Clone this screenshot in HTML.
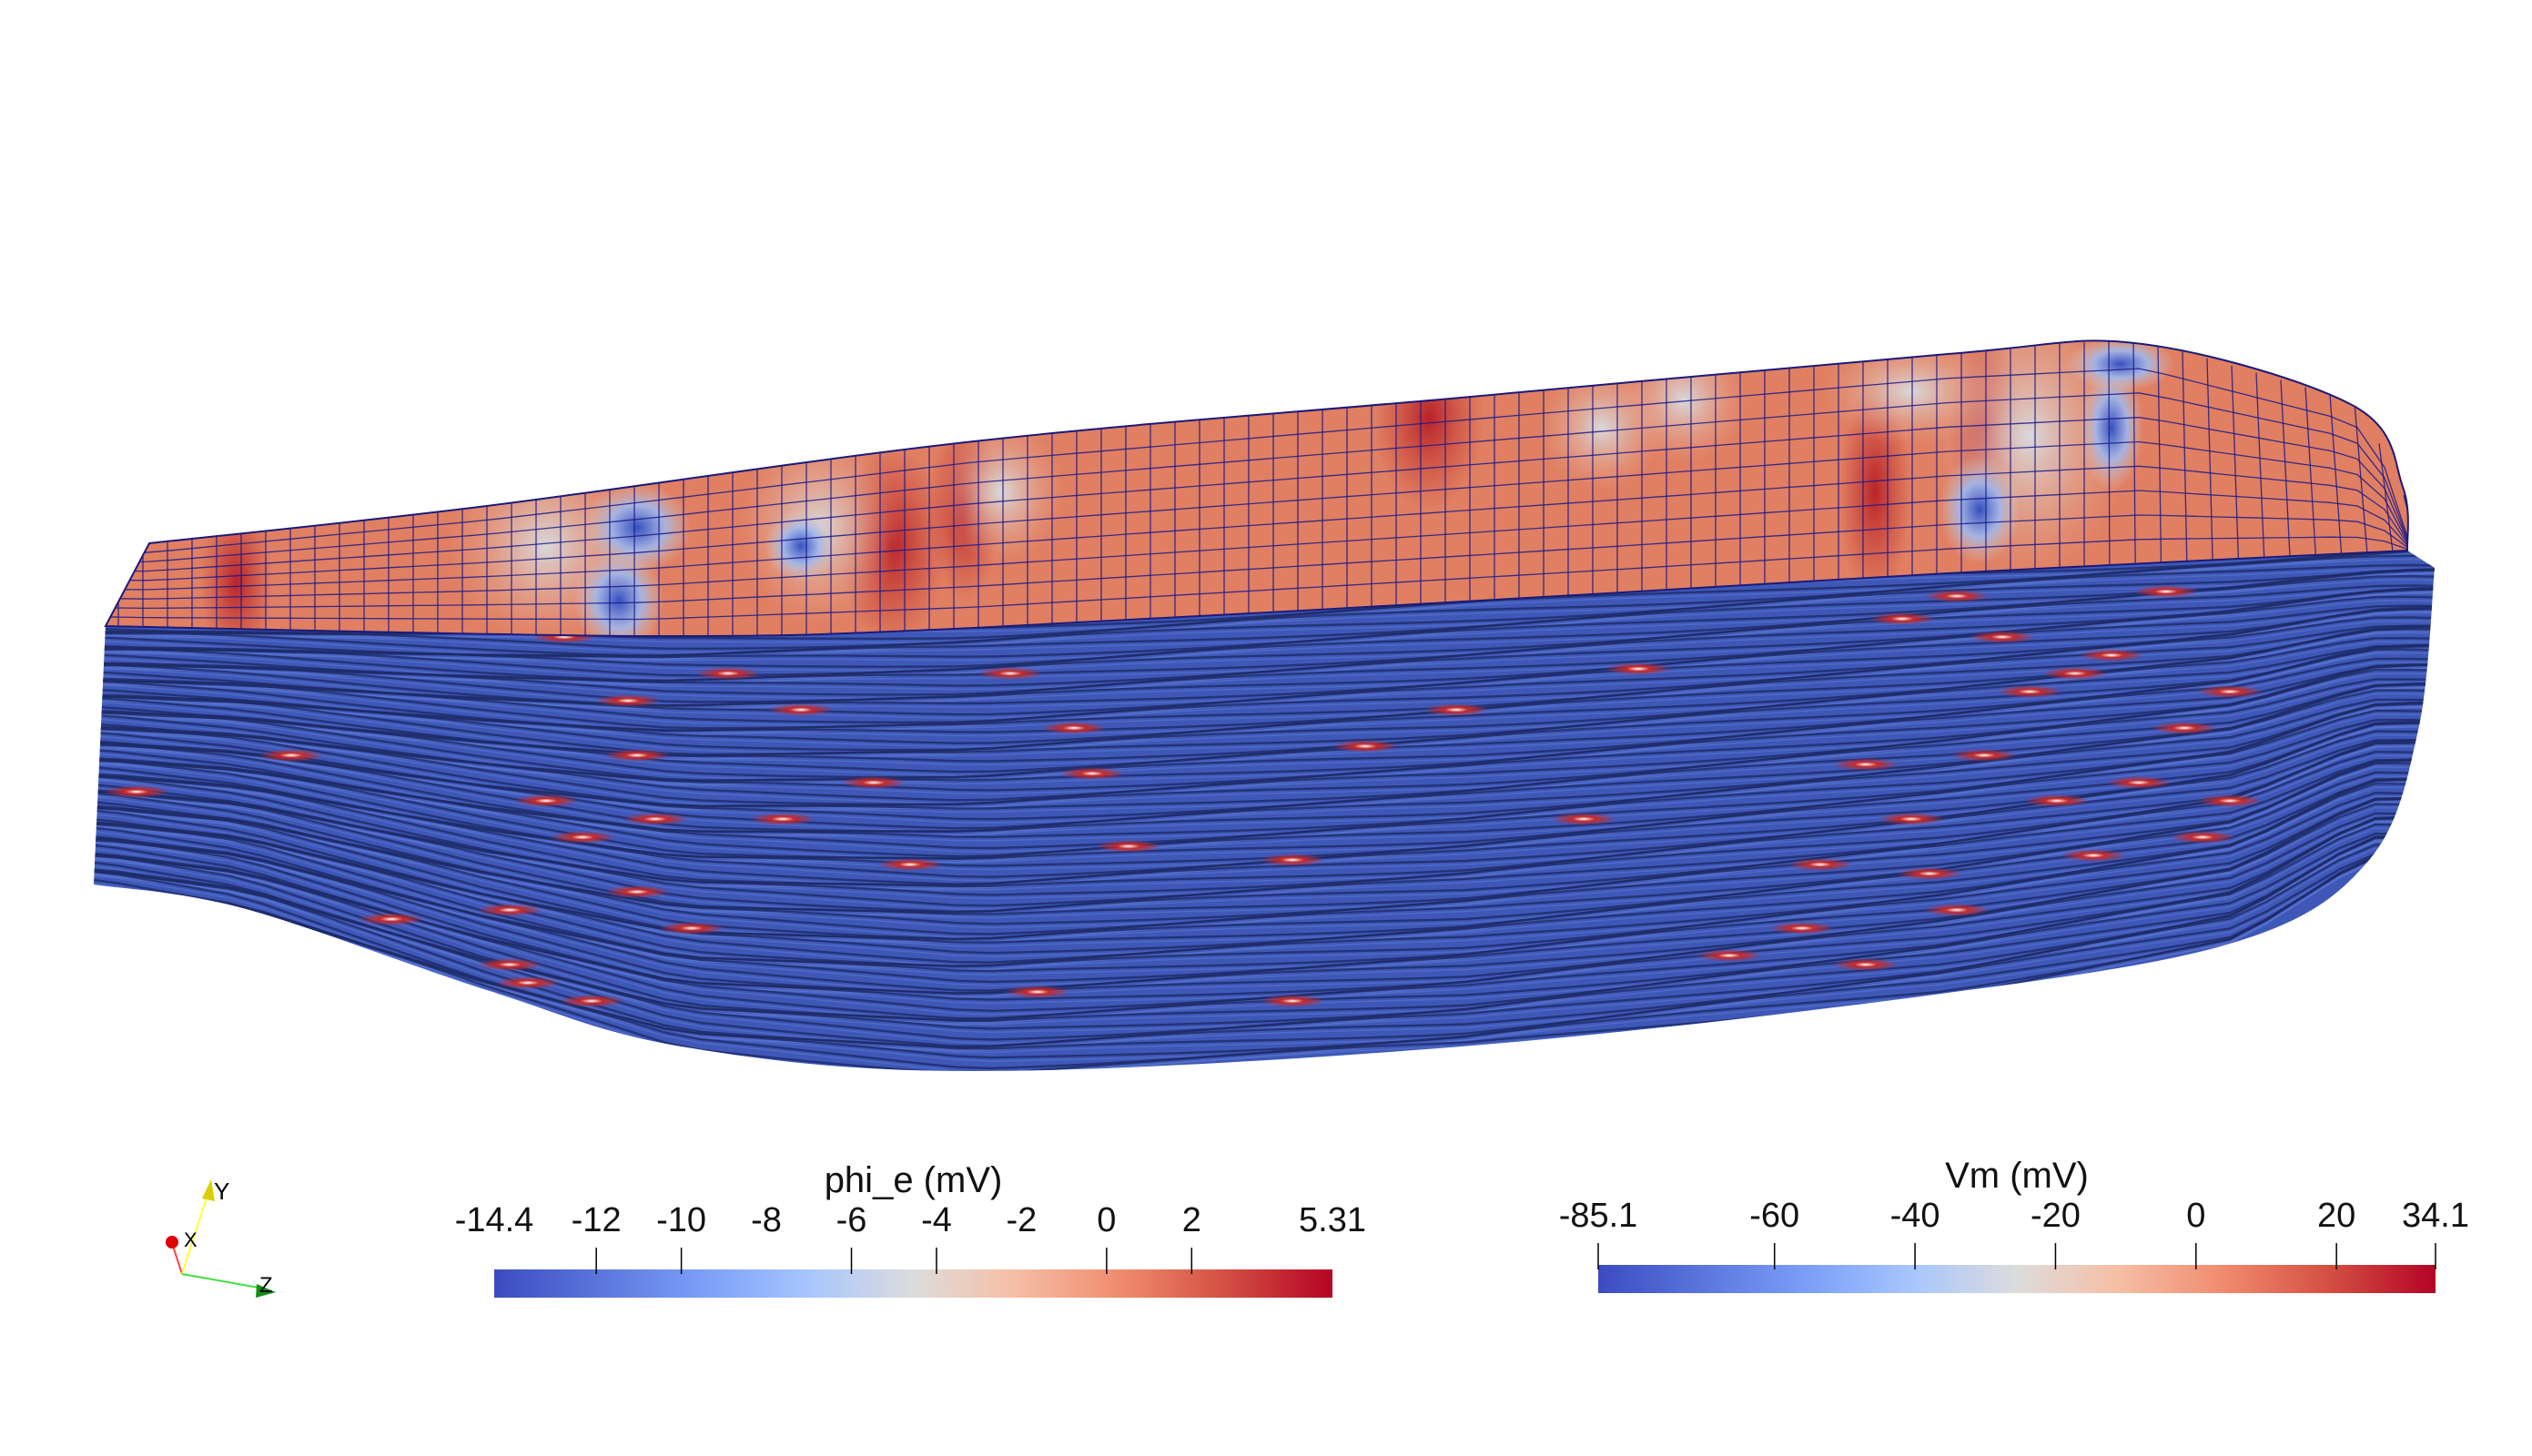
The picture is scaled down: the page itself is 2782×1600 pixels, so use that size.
<!DOCTYPE html>
<html><head><meta charset="utf-8"><style>
html,body{margin:0;padding:0;background:#fff;}
svg{display:block;font-family:"Liberation Sans",sans-serif;}
</style></head><body>
<svg id="root" width="2782" height="1600" viewBox="0 0 2782 1600">
<defs>
<linearGradient id="cw" x1="0" x2="1" y1="0" y2="0">
<stop offset="0" stop-color="#3b4cc0"/><stop offset="0.25" stop-color="#7b9ff9"/><stop offset="0.38" stop-color="#aac7fd"/>
<stop offset="0.5" stop-color="#dddcdc"/><stop offset="0.62" stop-color="#f6bfa6"/><stop offset="0.75" stop-color="#f08a6c"/>
<stop offset="0.88" stop-color="#d24b40"/><stop offset="1" stop-color="#b40426"/></linearGradient>
<radialGradient id="bluespot"><stop offset="0" stop-color="#3550c0"/><stop offset="0.5" stop-color="#9fb8ee" stop-opacity="0.9"/><stop offset="1" stop-color="#e0c4b4" stop-opacity="0"/></radialGradient>
<radialGradient id="lightspot"><stop offset="0" stop-color="#d8d8dc"/><stop offset="1" stop-color="#eaa488" stop-opacity="0"/></radialGradient>
<radialGradient id="redspot"><stop offset="0" stop-color="#b8222a"/><stop offset="1" stop-color="#c53a30" stop-opacity="0"/></radialGradient>
<radialGradient id="fib"><stop offset="0" stop-color="#fff"/><stop offset="0.35" stop-color="#c62a2a"/><stop offset="1" stop-color="#c62a2a" stop-opacity="0"/></radialGradient>
<clipPath id="topclip"><path id="toppathc" d=""/></clipPath>
<clipPath id="bodyclip"><path id="bodypathc" d=""/></clipPath>
</defs>
<g id="model"></g>
<g>
<line x1="200" y1="1400" x2="189" y2="1366" stroke="#ff4040" stroke-width="2"/>
<circle cx="189" cy="1365" r="7" fill="#e00000"/>
<line x1="200" y1="1400" x2="229" y2="1310" stroke="#ffff30" stroke-width="2"/>
<polygon points="232,1296 222,1317 236,1320" fill="#d8d000"/>
<line x1="200" y1="1400" x2="290" y2="1416" stroke="#40e040" stroke-width="2"/>
<polygon points="303,1420 282,1411 281,1426" fill="#109010"/>
<text x="202" y="1370" font-size="22">X</text>
<text x="235" y="1318" font-size="26">Y</text>
<text x="285" y="1420" font-size="24">Z</text>
</g>
<g id="bars"></g>
</svg>
<script>
const phiTicks=[-12,-10,-6,-4,0,2];
const phiLabels=[-14.4,-12,-10,-8,-6,-4,-2,0,2,5.31];
const phiRange=[-14.4,5.31];
const vmTicks=[-85.1,-60,-40,-20,0,20,34.1];
const vmLabels=[-85.1,-60,-40,-20,0,20,34.1];
const vmRange=[-85.1,34.1];
{
const NS="http://www.w3.org/2000/svg";
function mk(t,a,p){const e=document.createElementNS(NS,t);for(const k in a)e.setAttribute(k,a[k]);(p||document.getElementById('root')).appendChild(e);return e;}
function bar(name,title,x0,x1,y0,y1,tickTop,labY,titleY,range,ticks,labels){
 const g=document.getElementById('bars');
 const sc=v=>x0+(v-range[0])/(range[1]-range[0])*(x1-x0);
 const grp=mk('g',{},g);
 
 
 const r=mk('rect',{x:x0,y:y0,width:x1-x0,height:y1-y0,fill:'url(#cw)'},grp);
 
 
 ticks.forEach(v=>{const l=mk('line',{x1:sc(v),x2:sc(v),y1:tickTop,y2:y0+5,stroke:'#000','stroke-width':1.5},grp);
  
  });
 labels.forEach(v=>{const tx=mk('text',{x:sc(v),y:labY,'font-size':38,'text-anchor':'middle',fill:'#111'},grp);tx.textContent=String(v);
  
  });
 const tt=mk('text',{x:(x0+x1)/2,y:titleY,'font-size':40,'text-anchor':'middle',fill:'#111'},grp);tt.textContent=title;
 
 
}
bar('phi-e-colorbar','phi_e (mV)',543,1464,1395,1426,1371,1353,1310,phiRange,phiTicks,phiLabels);
bar('vm-colorbar','Vm (mV)',1756,2676,1390,1421,1366,1348,1305,vmRange,vmTicks,vmLabels);

function smooth(pts){let d='M'+pts[0][0]+','+pts[0][1];
 for(let i=0;i<pts.length-1;i++){const p0=pts[Math.max(0,i-1)],p1=pts[i],p2=pts[i+1],p3=pts[Math.min(pts.length-1,i+2)];
  const c1=[p1[0]+(p2[0]-p0[0])/6,p1[1]+(p2[1]-p0[1])/6],c2=[p2[0]-(p3[0]-p1[0])/6,p2[1]-(p3[1]-p1[1])/6];
  d+=' C'+c1[0].toFixed(1)+','+c1[1].toFixed(1)+' '+c2[0].toFixed(1)+','+c2[1].toFixed(1)+' '+p2[0]+','+p2[1];}
 return d;}
function interp(pts,x){if(x<=pts[0][0])return pts[0][1];for(let i=0;i<pts.length-1;i++){if(x<=pts[i+1][0]){const t=(x-pts[i][0])/(pts[i+1][0]-pts[i][0]);return pts[i][1]+t*(pts[i+1][1]-pts[i][1]);}}return pts[pts.length-1][1];}
const topEdge=[[164,597],[535,556],[1070,485],[1605,437],[2140,389],[2354,378],[2586,446],[2640,535],[2645,605]];
const mid=[[116,688],[713,699],[1070,690],[1783,651],[2140,630],[2645,605]];
const bot=[[103,972],[267,998],[535,1088],[749,1150],[1070,1177],[1605,1150],[2140,1091],[2460,1034],[2603,945],[2657,802],[2675,624]];
const topD='M116,688 L'+smooth(topEdge).slice(1)+' '+smooth(mid.slice().reverse()).replace('M','L')+' Z';
const bodyD=smooth(mid)+' L2675,624 '+smooth(bot.slice().reverse()).replace('M','L')+' L116,688 Z';
document.getElementById('toppathc').setAttribute('d',topD);
document.getElementById('bodypathc').setAttribute('d',bodyD);
const m=document.getElementById('model');
const bodyPath=mk('path',{d:bodyD,fill:'#3f58b8'},m);


const fg=mk('g',{'clip-path':'url(#bodyclip)'},m);
for(let i=0;i<80;i++){
 const f=i/79;
 let d='';
 for(let x=90;x<=2720;x+=40){
  const yt=interp(mid,x), yb=x>2600?interp(bot,2600):interp(bot,x);
  const y=yt+f*(yb-yt)+5*Math.sin(x/170+i*1.3);
  d+=(d?' L':'M')+x+','+y.toFixed(1);
 }
 mk('path',{d:d,fill:'none',stroke:'#1d2a66','stroke-width':2.4,opacity:0.8},fg);
 mk('path',{d:d,fill:'none',stroke:'#5a74d0','stroke-width':1.6,opacity:0.6,transform:'translate(0,4)'},fg);
}
const fibs=[[620,700],[690,770],[800,740],[700,830],[880,780],[1110,740],[1180,800],[1800,735],[2150,655],[2200,700],[2230,760],[2180,830],[2260,880],[2100,900],[2300,940],[640,920],[700,980],[560,1000],[760,1020],[1140,1090],[1420,1100],[1980,1020],[2050,1060],[2150,1000],[960,860],[1240,930],[1420,945],[1740,900],[320,830],[150,870],[580,1080],[1600,780],[2320,720],[2400,800],[2450,880],[1900,1050],[2000,950],[430,1010],[860,900],[1000,950],[2090,680],[2230,620],[2280,740],[2350,860],[2420,920],[2120,960],[2050,840],[600,880],[720,900],[560,1060],[650,1100],[2380,650],[2450,760],[1500,820],[1200,850]];
fibs.forEach(p=>{mk('ellipse',{cx:p[0],cy:p[1],rx:36,ry:7,fill:'url(#fib)'},fg);});
const topSurf=mk('path',{d:topD,fill:'#e07f62'},m);


const tg=mk('g',{'clip-path':'url(#topclip)'},m);
[[980,600,60,110],[1060,560,40,100],[2060,540,40,120],[2180,470,40,110],[1570,460,60,100],[260,640,40,90]].forEach(s=>mk('ellipse',{cx:s[0],cy:s[1],rx:s[2],ry:s[3],fill:'url(#redspot)'},tg));
[[600,600,110,110],[900,580,90,110],[1100,540,70,80],[1760,470,70,70],[1850,440,70,70],[2100,430,100,60],[2230,480,110,160]].forEach(s=>mk('ellipse',{cx:s[0],cy:s[1],rx:s[2],ry:s[3],fill:'url(#lightspot)'},tg));
[[680,660,50,60],[2175,560,45,60],[2320,470,35,70],[2330,400,60,30],[700,580,60,50],[880,600,40,40]].forEach(s=>mk('ellipse',{cx:s[0],cy:s[1],rx:s[2],ry:s[3],fill:'url(#bluespot)'},tg));
for(let x=130;x<2650;x+=27){const yt=interp(topEdge,x), yb=interp(mid,x);
 mk('line',{x1:x,y1:yt-5,x2:x+(x>2300?(x-2300)*0.05:0),y2:yb+5,stroke:'#1a1a8a','stroke-width':1.3,opacity:0.85},tg);}
for(let j=1;j<9;j++){const f=j/9;let d='';
 for(let x=100;x<=2660;x+=30){
  const yt=interp(topEdge,x), yb=interp(mid,x);
  d+=(d?' L':'M')+x+','+(yt+f*(yb-yt)).toFixed(1);}
 mk('path',{d:d,fill:'none',stroke:'#1a1a8a','stroke-width':1.3,opacity:0.85},tg);}
mk('path',{d:topD,fill:'none',stroke:'#1a1a7a','stroke-width':2},m);
}
</script>
</body></html>
